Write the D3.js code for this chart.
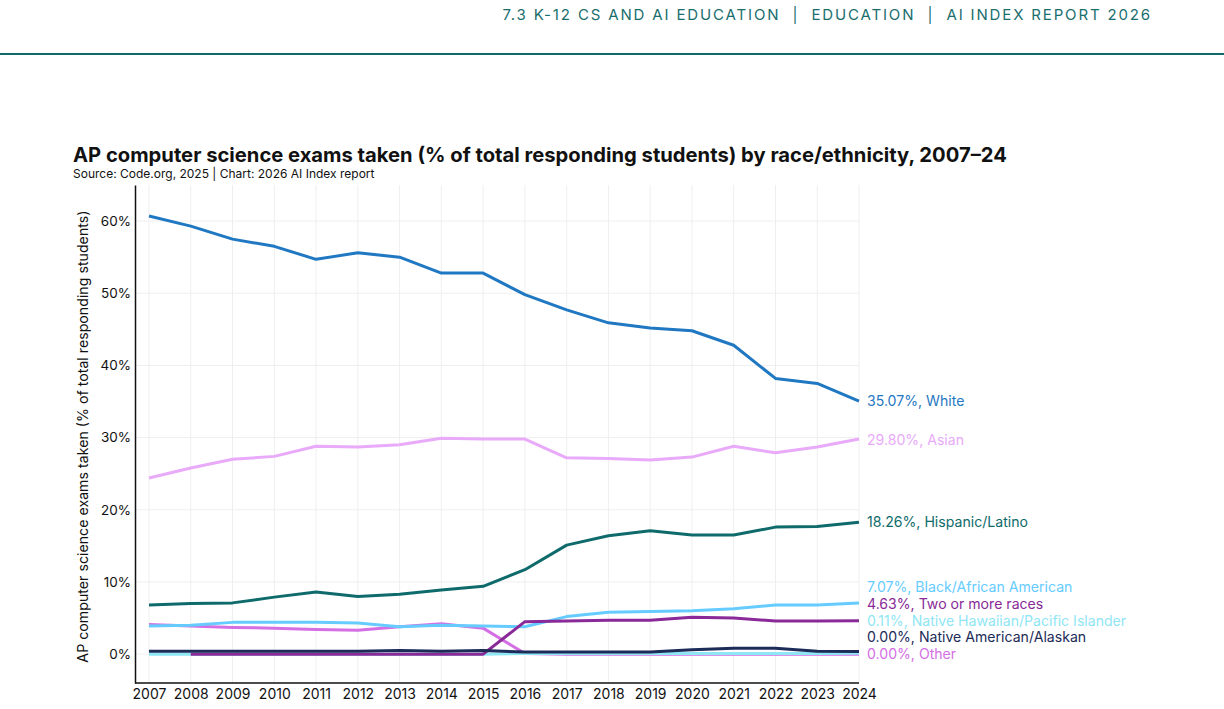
<!DOCTYPE html>
<html>
<head>
<meta charset="utf-8">
<script src="https://cdn.jsdelivr.net/npm/d3@7"></script>
<style>
  body { margin: 0; background: #fff; }
  text { font-family: Inter, "Noto Sans", sans-serif; }
</style>
</head>
<body>
<div id="wrapper"></div>
<script>
// data
const years = d3.range(2007, 2025);

const white    = [60.7, 59.3, 57.5, 56.5, 54.7, 55.6, 55.0, 52.8, 52.8, 49.8, 47.7, 45.9, 45.2, 44.8, 42.8, 38.2, 37.5, 35.07];
const asian    = [24.4, 25.8, 27.0, 27.4, 28.8, 28.7, 29.0, 29.9, 29.8, 29.8, 27.2, 27.1, 26.9, 27.3, 28.8, 27.9, 28.7, 29.80];
const hispanic = [6.8, 7.0, 7.1, 7.9, 8.6, 8.0, 8.3, 8.9, 9.4, 11.7, 15.1, 16.4, 17.1, 16.5, 16.5, 17.6, 17.7, 18.26];
const black    = [3.9, 4.0, 4.4, 4.4, 4.4, 4.3, 3.8, 4.0, 3.9, 3.8, 5.2, 5.8, 5.9, 6.0, 6.3, 6.8, 6.8, 7.07];
const twoMore  = [null, 0, 0, 0, 0, 0, 0, 0, 0, 4.5, 4.6, 4.7, 4.7, 5.1, 5.0, 4.6, 4.6, 4.63];
const hawaiian = [0, 0, 0, 0, 0, 0, 0, 0, 0, 0.1, 0.1, 0.1, 0.1, 0.1, 0.1, 0.1, 0.1, 0.11];
const natAm    = [0.4, 0.4, 0.4, 0.4, 0.4, 0.4, 0.5, 0.4, 0.5, 0.3, 0.3, 0.3, 0.3, 0.6, 0.8, 0.8, 0.4, 0.35];
const other    = [4.1, 3.9, 3.7, 3.6, 3.4, 3.3, 3.8, 4.2, 3.6, 0.1, 0, 0, 0, 0, 0, 0, 0, 0];

const yTicks = [0, 10, 20, 30, 40, 50, 60];

// drawing order: first drawn sits at the bottom
const series = [
  { name: "White",                            values: white,    color: "#1f78c1", label: "35.07%, White",                            ly: 401 },
  { name: "Asian",                            values: asian,    color: "#e8aaf9", label: "29.80%, Asian",                            ly: 440 },
  { name: "Hispanic/Latino",                  values: hispanic, color: "#0f6b6b", label: "18.26%, Hispanic/Latino",                  ly: 522 },
  { name: "Other",                            values: other,    color: "#d46fe4", label: "0.00%, Other",                             ly: 654 },
  { name: "Native Hawaiian/Pacific Islander", values: hawaiian, color: "#8fe6f4", label: "0.11%, Native Hawaiian/Pacific Islander", ly: 621 },
  { name: "Black/African American",           values: black,    color: "#66ccff", label: "7.07%, Black/African American",           ly: 587 },
  { name: "Two or more races",                values: twoMore,  color: "#892a98", label: "4.63%, Two or more races",                 ly: 604 },
  { name: "Native American/Alaskan",          values: natAm,    color: "#1c2b58", label: "0.00%, Native American/Alaskan",           ly: 637 }
];

const W = 1224, H = 709;
const plotL = 135, plotR = 859, plotT = 185, plotB = 683;

const svg = d3.select("#wrapper").append("svg")
  .attr("width", W).attr("height", H);

// page header
svg.append("text")
  .attr("x", 1152).attr("y", 20)
  .attr("text-anchor", "end")
  .attr("font-size", 15)
  .attr("letter-spacing", 1.85)
  .attr("fill", "#1a6e6e")
  .style("white-space", "pre")
  .text("7.3 K-12 CS AND AI EDUCATION  |  EDUCATION  |  AI INDEX REPORT 2026");

svg.append("rect")
  .attr("x", 0).attr("y", 53).attr("width", W).attr("height", 2)
  .attr("fill", "#0f6b6b");

// titles
svg.append("text")
  .attr("x", 73).attr("y", 162)
  .attr("font-size", 20.2).attr("font-weight", 700)
  .attr("fill", "#111")
  .text("AP computer science exams taken (% of total responding students) by race/ethnicity, 2007–24");

svg.append("text")
  .attr("x", 73).attr("y", 178)
  .attr("font-size", 12)
  .attr("fill", "#111")
  .text("Source: Code.org, 2025 | Chart: 2026 AI Index report");

const x = d3.scaleLinear().domain([2007, 2024]).range([149, plotR]);
const y = d3.scaleLinear().domain([-4, 65]).range([plotB, plotT]);

// grid
svg.append("g")
  .selectAll("line")
  .data(years)
  .enter().append("line")
  .attr("x1", d => x(d)).attr("x2", d => x(d))
  .attr("y1", plotT).attr("y2", plotB)
  .attr("stroke", "#efefef").attr("stroke-width", 1);

svg.append("g")
  .selectAll("line")
  .data(yTicks)
  .enter().append("line")
  .attr("x1", plotL).attr("x2", plotR)
  .attr("y1", d => y(d)).attr("y2", d => y(d))
  .attr("stroke", "#efefef").attr("stroke-width", 1);

// axes
const yAxis = svg.append("g")
  .attr("transform", `translate(${plotL},0)`)
  .call(d3.axisLeft(y).tickValues(yTicks).tickFormat(d => d + "%").tickSize(0).tickPadding(4));
yAxis.select(".domain").attr("stroke", "#111").attr("stroke-width", 1.5);
yAxis.selectAll("text").attr("font-size", 13.5).attr("fill", "#111")
  .style("font-family", "Inter, 'Noto Sans', sans-serif");

const xAxis = svg.append("g")
  .attr("transform", `translate(0,${plotB})`)
  .call(d3.axisBottom(x).tickValues(years).tickFormat(d3.format("d")).tickSize(0).tickPadding(6));
xAxis.select(".domain").remove();
xAxis.selectAll("text").attr("font-size", 14).attr("fill", "#111")
  .style("font-family", "Inter, 'Noto Sans', sans-serif");
svg.append("line")
  .attr("x1", plotL).attr("x2", plotR)
  .attr("y1", plotB).attr("y2", plotB)
  .attr("stroke", "#111").attr("stroke-width", 1.5);

// y-axis title
svg.append("text")
  .attr("transform", `translate(88,${(y(60) + y(0)) / 2 - 1}) rotate(-90)`)
  .attr("text-anchor", "middle")
  .attr("font-size", 14.2)
  .attr("fill", "#111")
  .text("AP computer science exams taken (% of total responding students)");

// lines
const line = d3.line()
  .defined(d => d.v != null)
  .x(d => x(d.year))
  .y(d => y(d.v));

svg.append("g")
  .selectAll("path")
  .data(series)
  .enter().append("path")
  .attr("d", s => line(years.map((yr, i) => ({ year: yr, v: s.values[i] }))))
  .attr("fill", "none")
  .attr("stroke", s => s.color)
  .attr("stroke-width", 3)
  .attr("stroke-linejoin", "round");

// end labels
svg.append("g")
  .selectAll("text")
  .data(series)
  .enter().append("text")
  .attr("x", plotR + 8)
  .attr("y", s => s.ly)
  .attr("dy", "0.35em")
  .attr("font-size", 14.1)
  .attr("fill", s => s.color)
  .text(s => s.label);
</script>
</body>
</html>
